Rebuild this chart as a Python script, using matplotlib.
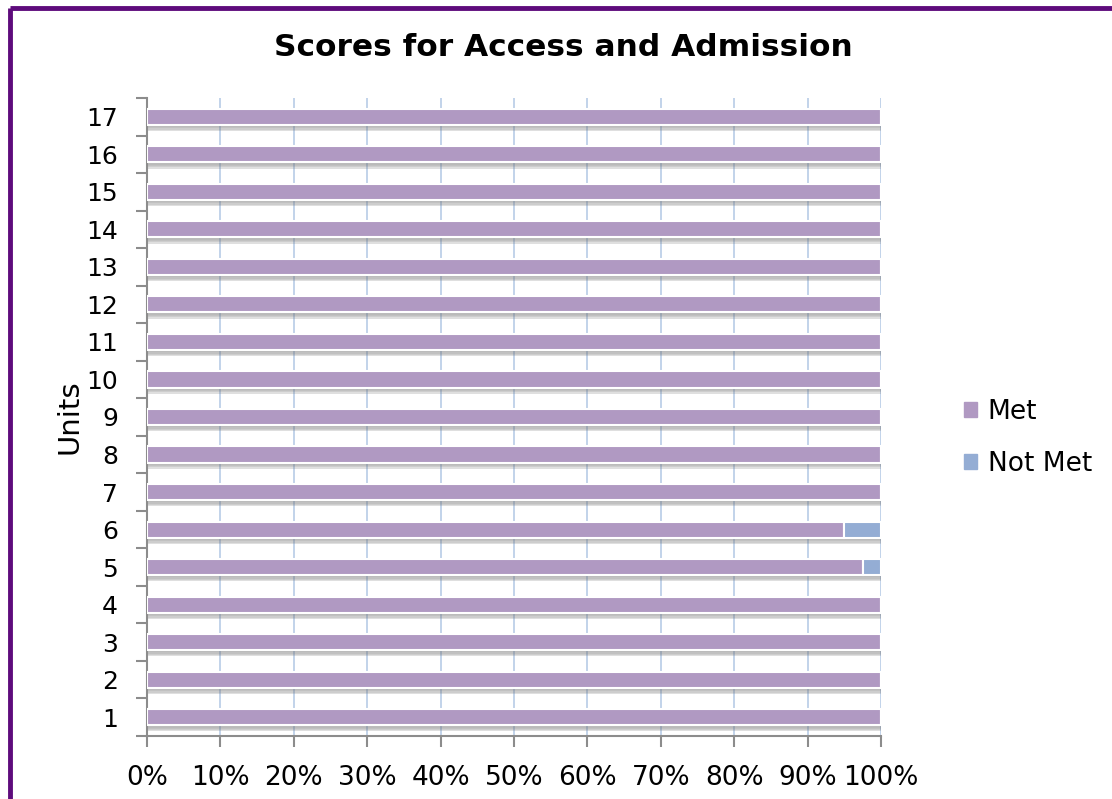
import matplotlib
matplotlib.use('Agg')
import matplotlib.pyplot as plt
from matplotlib.lines import Line2D
import numpy as np

units = [str(i) for i in range(1, 18)]
met = [100, 100, 100, 100, 97.5, 95, 100, 100, 100, 100, 100, 100, 100, 100, 100, 100, 100]
not_met = [0, 0, 0, 0, 2.5, 5, 0, 0, 0, 0, 0, 0, 0, 0, 0, 0, 0]

met_color = '#B099C2'
not_met_color = '#94ADD4'
grid_color = '#B8CCE6'
spine_color = '#8C8C8C'

fig = plt.figure(figsize=(11.12, 7.99), dpi=100)
ax = fig.add_axes([147/1112, 1 - 736/799, (881-147)/1112, (736-98)/799])

y = np.arange(1, len(units) + 1)
h = 0.43
met_arr = np.array(met)
nm_arr = np.array(not_met)

# soft shadow under bars
for k, a in enumerate([0.08, 0.12, 0.16, 0.22]):
    ax.barh(y - 0.06 - 0.035 * k, met_arr + nm_arr, height=h, left=0.2,
            color='#707070', alpha=a, linewidth=0, zorder=2)

ax.barh(y, met, height=h, color=met_color, edgecolor='white', linewidth=1.5,
        label='Met', zorder=3)
ax.barh(y, not_met, height=h, left=met, color=not_met_color, edgecolor='white',
        linewidth=1.5, label='Not Met', zorder=3)

ax.set_xlim(0, 100)
ax.set_ylim(0.5, 17.5)
ax.set_xticks(np.arange(0, 101, 10))
ax.set_xticklabels([f'{v}%' for v in range(0, 101, 10)], fontsize=19)
ax.set_yticks(np.arange(0.5, 18, 1))
ax.set_yticklabels([])
ax.set_yticks(y, minor=True)
ax.set_yticklabels(units, minor=True, fontsize=18)
ax.tick_params(axis='y', which='minor', length=0, pad=21)
ax.tick_params(axis='y', which='major', length=8, width=1.5, color=spine_color, direction='out')
ax.tick_params(axis='x', length=8, width=1.5, color=spine_color, pad=13)

ax.xaxis.grid(True, color=grid_color, linewidth=1.2, zorder=0)
ax.set_axisbelow(True)
for s in ['top', 'right']:
    ax.spines[s].set_visible(False)
for s in ['left', 'bottom']:
    ax.spines[s].set_color(spine_color)
    ax.spines[s].set_linewidth(1.5)

ax.set_ylabel('Units', fontsize=21, labelpad=2)
fig.text(563/1112, 1 - 48/799, 'Scores for Access and Admission', ha='center', va='center',
         fontsize=22.5, fontweight='bold')

handles = [plt.Rectangle((0, 0), 1, 1, color=met_color),
           plt.Rectangle((0, 0), 1, 1, color=not_met_color)]
fig.legend(handles, ['Met', 'Not Met'], loc='center left',
           bbox_to_anchor=(940/1112, 1 - 438/799), frameon=False, fontsize=19,
           handlelength=0.5, handleheight=0.5, handletextpad=0.4, labelspacing=1.0)

# purple frame (top and left visible)
fig.add_artist(Line2D([10/1112, 1], [1 - 8/799, 1 - 8/799], transform=fig.transFigure,
                      color='#5E0B7C', linewidth=3.5, solid_capstyle='butt'))
fig.add_artist(Line2D([10/1112, 10/1112], [0, 1 - 8/799], transform=fig.transFigure,
                      color='#5E0B7C', linewidth=3.5, solid_capstyle='butt'))

plt.savefig('out.png', dpi=100)
plt.close()
